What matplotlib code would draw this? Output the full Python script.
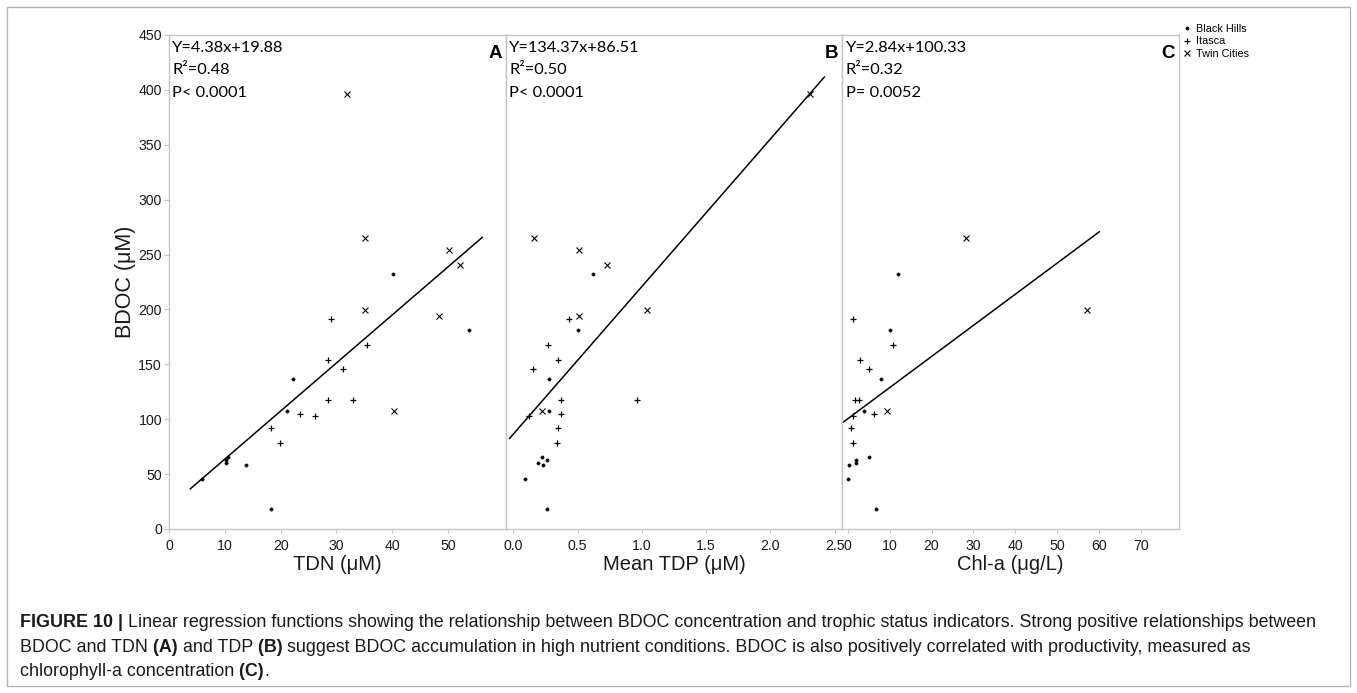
import numpy as np
import matplotlib
matplotlib.use("Agg")
import matplotlib.pyplot as plt
from matplotlib.patches import Rectangle
from matplotlib.lines import Line2D

nan = np.nan

# ---- BDOC (µM) and trophic-status indicators for each site ----
bh_bdoc = [232.0, 181.2, 136.9, 107.5, 65.8, 62.8, 60.4, 58.3, 45.8, 18.2]
bh_tdn = [40.2, 53.7, 22.2, 21.1, 10.6, 10.2, 10.2, 13.8, 6.0, 18.3]
bh_tdp = [0.62, 0.50, 0.28, 0.28, 0.22, 0.26, 0.19, 0.23, 0.09, 0.26]
bh_chla = [12.1, 10.2, 8.0, 4.0, 5.2, 2.0, 1.9, 0.3, 0.2, 6.7]

it_bdoc = [191.5, 167.6, 154.2, 146.0, 117.5, 117.5, 104.5, 102.9, 92.3, 78.0]
it_tdn = [29.1, 35.4, 28.4, 31.1, 28.5, 33.0, 23.4, 26.1, 18.3, 19.8]
it_tdp = [0.43, 0.27, 0.35, 0.15, 0.37, 0.96, 0.37, 0.12, 0.35, 0.34]
it_chla = [1.2, 10.8, 3.0, 5.0, 1.7, 2.8, 6.4, 1.4, 0.9, 1.4]

tc_bdoc = [396.0, 264.8, 254.4, 240.7, 199.2, 194.0, 107.2]
tc_tdn = [31.8, 35.1, 50.1, 52.2, 35.1, 48.3, 40.3]
tc_tdp = [2.31, 0.16, 0.51, 0.73, 1.04, 0.51, 0.22]
tc_chla = [nan, 28.3, nan, nan, 57.1, nan, 9.5]

site_names = ["Black Hills", "Itasca", "Twin Cities"]

# ---- regression results per panel ----
panel_letters = ["A", "B", "C"]
x_labels = ["TDN (μM)", "Mean TDP (μM)", "Chl-a (μg/L)"]
fit_slope = [4.38, 134.37, 2.84]
fit_intercept = [19.88, 86.51, 100.33]
fit_r2 = ["0.48", "0.50", "0.32"]
fit_p = ["P< 0.0001", "P< 0.0001", "P= 0.0052"]
fit_span = [(3.8, 56.1), (-0.03, 2.42), (-1.2, 60.0)]

x_limits = [(0, 60.3), (-0.06, 2.56), (-1.26, 79.0)]
x_ticks = [[0, 10, 20, 30, 40, 50],
           [0.0, 0.5, 1.0, 1.5, 2.0, 2.5],
           [0, 10, 20, 30, 40, 50, 60, 70]]
x_ticklabels = [["0", "10", "20", "30", "40", "50"],
                ["0.0", "0.5", "1.0", "1.5", "2.0", "2.5"],
                ["0", "10", "20", "30", "40", "50", "60", "70"]]
y_ticks = [0, 50, 100, 150, 200, 250, 300, 350, 400, 450]

plt.rcParams["font.family"] = ["Liberation Sans", "DejaVu Sans"]
ANNOT_FONT = ["Lato", "DejaVu Sans"]
SPINE = "#c4c4c4"
INK = "#1a1a1a"

W, H = 1357, 693
fig = plt.figure(figsize=(W / 100, H / 100), dpi=100)

left_px, right_px = 169, 1179
top_px, bottom_px = 35, 529
pw = (right_px - left_px) / 3
ph = bottom_px - top_px

site_x = [
    (bh_tdn, it_tdn, tc_tdn),
    (bh_tdp, it_tdp, tc_tdp),
    (bh_chla, it_chla, tc_chla),
]
site_y = (bh_bdoc, it_bdoc, tc_bdoc)
marker_style = [
    dict(marker="o", ms=2.4, mfc="black", mec="black", mew=0.3),
    dict(marker="+", ms=5.0, mec="black", mew=0.9),
    dict(marker="x", ms=3.8, mec="black", mew=0.8),
]

axes = []
for i in range(3):
    ax = fig.add_axes([(left_px + i * pw) / W, 1 - bottom_px / H,
                       pw / W, ph / H])
    axes.append(ax)
    for xs, ys, st in zip(site_x[i], site_y, marker_style):
        ax.plot(xs, ys, ls="none", color="black", **st)

    x0, x1 = fit_span[i]
    xf = np.array([x0, x1])
    ax.plot(xf, fit_slope[i] * xf + fit_intercept[i], color="black", lw=1.1)

    ax.set_xlim(*x_limits[i])
    ax.set_ylim(0, 450)
    ax.set_xticks(x_ticks[i])
    ax.set_xticklabels(x_ticklabels[i])
    ax.set_yticks(y_ticks)
    for sp in ax.spines.values():
        sp.set_color(SPINE)
        sp.set_linewidth(1.0)
    ax.tick_params(axis="x", direction="out", length=3, width=0.8,
                   color=SPINE, labelsize=10.2, labelcolor=INK, pad=4)
    ax.tick_params(axis="y", direction="out", length=3.6, width=0.8,
                   color=SPINE, labelsize=10.2, labelcolor=INK, pad=1.5)
    if i > 0:
        ax.tick_params(axis="y", left=False, labelleft=False)

    ax.set_xlabel(x_labels[i], fontsize=14.5, color=INK, va="center")
    ax.xaxis.set_label_coords(0.5, -36 / ph)

    eq = f"Y={fit_slope[i]:.2f}x+{fit_intercept[i]:.2f}"
    lines = [eq, f"R²={fit_r2[i]}", fit_p[i]]
    for k, s in enumerate(lines):
        ax.text(0.010, 1 - (13 + 22.5 * k) / ph, s,
                transform=ax.transAxes, ha="left", va="center",
                fontsize=11.8, family=ANNOT_FONT, color="black")
    ax.text(0.988, 1 - 18.5 / ph, panel_letters[i],
            transform=ax.transAxes, ha="right", va="center",
            fontsize=13.5, fontweight="bold", color="black")

axes[0].set_ylabel("BDOC (μM)", fontsize=15.5, color=INK, va="center")
axes[0].yaxis.set_label_coords((125 - left_px) / pw, 0.5)

# site legend in the upper-right corner
handles = [Line2D([], [], ls="none", color="black", **st) for st in marker_style]
fig.legend(handles, site_names, loc="upper left",
           bbox_to_anchor=(1183 / W, 1 - 24 / H), frameon=False,
           fontsize=7.8, handlelength=0.7, handletextpad=0.5,
           labelspacing=0.22, borderpad=0, borderaxespad=0)

# outer frame around figure and caption
fig.add_artist(Rectangle((7 / W, 1 - 686 / H), (1350 - 7) / W, (686 - 7) / H,
                         transform=fig.transFigure, fill=False,
                         edgecolor="#b5b5b5", lw=1.0))

# caption with bold runs
cap = fig.add_axes([0, 0, 1, 1], facecolor="none")
cap.set_axis_off()
cap.set_xlim(0, W)
cap.set_ylim(H, 0)

caption_lines = [
    [("FIGURE 10 |", True),
     (" Linear regression functions showing the relationship between BDOC "
      "concentration and trophic status indicators. Strong positive "
      "relationships between", False)],
    [("BDOC and TDN", False), (" (A)", True), (" and TDP", False), (" (B)", True),
     (" suggest BDOC accumulation in high nutrient conditions. BDOC is also "
      "positively correlated with productivity, measured as", False)],
    [("chlorophyll-a concentration", False), (" (C)", True), (".", False)],
]
caption_y = [631, 655.5, 680]
CAP_SIZE = 12.9
for segs, yb in zip(caption_lines, caption_y):
    prev = None
    for s, bold in segs:
        w = "bold" if bold else "normal"
        if prev is None:
            prev = cap.text(20, yb, s, ha="left", va="bottom", fontsize=CAP_SIZE,
                            fontweight=w, color=INK)
        else:
            prev = cap.annotate(s, xy=(1, 0), xycoords=prev, ha="left",
                                va="bottom", fontsize=CAP_SIZE, fontweight=w,
                                color=INK)

fig.savefig("out.png", dpi=100, facecolor="white")
